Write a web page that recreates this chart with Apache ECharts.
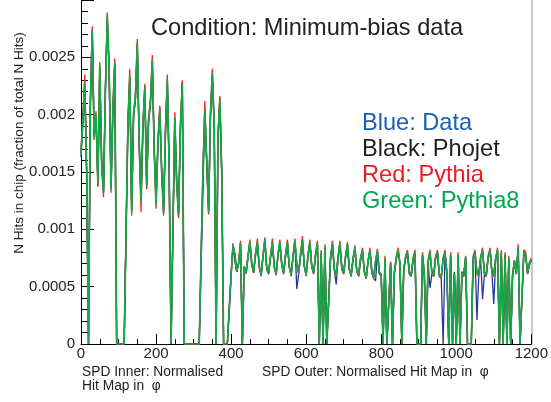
<!DOCTYPE html>
<html><head><meta charset="utf-8">
<script src="https://cdn.jsdelivr.net/npm/echarts@6/dist/echarts.min.js"></script>
<style>html,body{margin:0;padding:0;background:#fff}#c{width:551px;height:402px}</style>
</head><body><div id="c"></div>
<script>
// chip index spacing of the samples below (values are N hits fraction in units of 1e-5)
const chipStep = 5;
const valueUnit = 1e-5;
const xTickLabels = [0, 200, 400, 600, 800, 1000, 1200];
const yTickLabels = [0, 0.0005, 0.001, 0.0015, 0.002, 0.0025];
const legendLines = ['Blue: Data', 'Black: Phojet', 'Red: Pythia', 'Green: Pythia8'];

const blueData = [
163,193,225,151,0,208,272,181,199,141,
241,159,133,219,284,238,136,204,244,0,
0,0,0,0,0,189,232,116,199,214,
261,176,125,189,221,139,194,209,246,171,
122,174,203,151,115,184,229,151,0,0,
197,141,113,189,225,0,0,0,0,0,
0,0,0,0,0,135,201,161,116,199,
234,191,0,179,211,151,0,0,0,0,
60,85,72,63,70,87,0,67,62,75,
88,69,62,77,88,67,60,76,90,65,
61,75,88,67,60,77,88,69,61,76,
88,67,60,76,89,48,61,77,90,68,
60,76,88,67,61,77,87,0,79,0,
84,0,0,74,87,65,52,74,87,65,
61,75,86,65,59,73,83,63,59,73,
81,63,57,71,81,62,57,55,80,62,
59,0,74,0,0,69,0,61,74,81,
69,0,64,75,79,61,59,73,79,0,
0,0,77,59,0,71,49,61,59,75,
79,59,57,0,79,61,0,77,0,61,
0,77,0,61,59,75,0,0,0,74,
79,21,59,74,39,61,59,75,81,62,
35,73,81,0,79,0,77,0,74,0,
59,71,61,83,0,0,79,77,61,69,
73];

const blackData = [
168,197,226,152,0,212,272,182,198,138,
240,160,134,222,283,238,137,203,244,0,
0,0,0,0,0,192,231,118,198,213,
260,178,126,188,225,140,193,212,246,172,
124,173,206,152,116,183,229,152,0,0,
196,142,114,188,229,0,0,0,0,0,
0,0,0,0,0,152,205,158,117,198,
234,192,0,178,215,148,0,0,0,0,
61,85,79,63,71,87,0,67,63,77,
88,71,62,79,88,67,61,76,90,67,
63,77,88,67,62,77,88,69,63,78,
88,67,61,77,89,69,63,77,90,68,
61,78,88,67,63,77,87,0,79,0,
84,0,0,76,87,65,61,76,87,67,
63,77,86,65,61,75,83,63,61,75,
81,63,59,73,81,64,59,73,80,63,
61,0,74,0,0,71,0,63,74,81,
71,0,66,75,79,63,61,75,79,0,
0,0,77,61,0,71,79,63,61,75,
79,61,59,75,79,63,0,77,0,63,
0,77,0,63,61,75,0,0,0,74,
79,63,61,76,81,63,61,75,81,64,
61,75,81,0,79,0,77,0,74,0,
61,73,63,83,0,0,79,77,63,71,
73];

const redData = [
167,198,235,148,0,214,277,178,203,137,
246,156,128,224,289,243,132,208,249,0,
0,0,0,0,0,194,240,112,203,218,
266,172,115,192,227,135,198,213,252,168,
118,178,208,148,112,188,235,148,0,0,
202,138,110,193,230,0,0,0,0,0,
0,0,0,0,0,153,212,158,113,203,
240,188,0,183,216,148,0,0,0,0,
59,88,77,63,71,90,0,67,61,77,
91,69,62,79,92,67,59,78,93,65,
61,77,92,67,60,79,91,69,61,78,
91,67,59,77,92,69,61,79,94,68,
59,78,91,67,61,79,90,0,82,0,
87,0,0,76,90,65,59,76,90,65,
61,77,89,65,59,75,86,63,59,75,
84,63,57,73,84,62,57,73,83,61,
59,0,77,0,0,72,0,61,76,84,
69,0,64,77,82,61,59,75,82,0,
0,0,80,59,0,74,82,61,59,77,
82,59,57,75,82,61,0,80,0,61,
0,80,0,61,59,77,0,0,0,77,
82,61,59,76,84,61,59,77,84,62,
59,75,84,0,82,0,80,0,77,0,
59,73,61,87,0,0,82,80,61,71,
75];

const greenData = [
165,195,228,150,0,210,274,180,200,140,
243,158,132,220,286,240,135,205,246,0,
0,0,0,0,0,190,234,115,200,215,
263,175,124,190,223,138,195,210,248,170,
121,175,204,150,114,185,231,150,0,0,
198,140,112,190,227,0,0,0,0,0,
0,0,0,0,0,150,203,160,115,200,
236,190,0,180,213,150,0,0,0,0,
60,86,78,64,70,88,0,68,62,76,
89,70,63,78,89,68,60,77,91,66,
62,76,89,68,61,78,89,70,62,77,
89,68,60,76,90,70,62,78,91,69,
60,77,89,68,62,78,88,0,80,0,
85,0,0,75,88,66,60,75,88,66,
62,76,87,66,60,74,84,64,60,74,
82,64,58,72,82,63,58,72,81,62,
60,0,75,0,0,70,0,62,75,82,
70,0,65,76,80,62,60,74,80,0,
0,0,78,60,0,72,80,62,60,76,
80,60,58,74,80,62,0,78,0,62,
0,78,0,62,60,76,0,0,0,75,
80,62,60,75,82,62,60,76,82,63,
60,74,82,0,80,0,78,0,75,0,
60,72,62,84,0,0,80,78,62,70,
74];

const FONT = '"Liberation Sans", Arial, sans-serif';
function toPoints(arr) { return arr.map((v, i) => [i * chipStep, v * valueUnit]); }
function mkSeries(name, arr, color, width) {
  return { name, type: 'line', data: toPoints(arr), showSymbol: false, symbol: 'none',
    lineStyle: { color, width }, itemStyle: { color }, animation: false, silent: true, clip: true };
}
const chart = echarts.init(document.getElementById('c'), null, { renderer: 'canvas' });
const legendColors = ['#1a5fb4', '#231f20', '#ed1c24', '#00a650'];
const legendY = [123, 149, 175, 201];
chart.setOption({
  animation: false,
  grid: { left: 81, right: 16, top: -5, bottom: 58, containLabel: false },
  xAxis: {
    type: 'value', min: xTickLabels[0], max: xTickLabels[xTickLabels.length - 1], interval: 200,
    axisLine: { show: true, lineStyle: { color: '#000', width: 1 } },
    axisTick: { show: true, inside: true, length: 10, lineStyle: { color: '#000' } },
    minorTick: { show: true, splitNumber: 4, length: 5, lineStyle: { color: '#000' } },
    axisLabel: { fontSize: 15, color: '#222', margin: 2, fontFamily: FONT,
      formatter: v => { const f = xTickLabels.find(t => Math.abs(t - v) < 1e-6); return f === undefined ? '' : String(f); } },
    splitLine: { show: false }
  },
  yAxis: [{
    type: 'value', min: 0, max: 0.003, interval: 0.0005,
    axisLine: { show: true, lineStyle: { color: '#000', width: 1 } },
    axisTick: { show: true, inside: true, length: 13, lineStyle: { color: '#000' } },
    minorTick: { show: true, splitNumber: 5, length: 7, lineStyle: { color: '#000' } },
    axisLabel: { showMaxLabel: false, fontSize: 15, color: '#222', margin: 6, fontFamily: FONT,
      formatter: v => { const f = yTickLabels.find(t => Math.abs(t - v) < 1e-9); return f === undefined ? '' : String(f); } },
    splitLine: { show: false }
  }, {
    type: 'value', position: 'right', min: 0, max: 0.003,
    axisLine: { show: true, lineStyle: { color: '#b4b4b4', width: 1.5 } },
    axisTick: { show: false }, axisLabel: { show: false }, splitLine: { show: false }
  }],
  series: [
    mkSeries('Data', blueData, '#27389a', 1.3),
    mkSeries('Phojet', blackData, '#2a2a2a', 1.3),
    mkSeries('Pythia', redData, '#ff2020', 1.3),
    mkSeries('Pythia8', greenData, '#13a84a', 1.7)
  ],
  graphic: [
    { type: 'text', x: 151, y: 28, style: { text: 'Condition: Minimum-bias data', font: '23.6px ' + FONT, fill: '#222', align: 'left', verticalAlign: 'middle' } },
    ...legendLines.map((t, i) => ({ type: 'text', x: 362, y: legendY[i], style: { text: t, font: '23.6px ' + FONT, fill: legendColors[i], align: 'left', verticalAlign: 'middle' } })),
    { type: 'text', x: 19, y: 143, rotation: Math.PI / 2, style: { text: 'N Hits in chip (fraction of total N Hits)', font: '13.5px ' + FONT, fill: '#222', align: 'center', verticalAlign: 'middle' } },
    { type: 'text', x: 82, y: 372, style: { text: 'SPD Inner: Normalised', font: '13.8px ' + FONT, fill: '#222', align: 'left', verticalAlign: 'middle' } },
    { type: 'text', x: 82, y: 386, style: { text: 'Hit Map in  φ', font: '13.8px ' + FONT, fill: '#222', align: 'left', verticalAlign: 'middle' } },
    { type: 'text', x: 262, y: 372, style: { text: 'SPD Outer: Normalised Hit Map in  φ', font: '13.8px ' + FONT, fill: '#222', align: 'left', verticalAlign: 'middle' } }
  ]
});
</script></body></html>
